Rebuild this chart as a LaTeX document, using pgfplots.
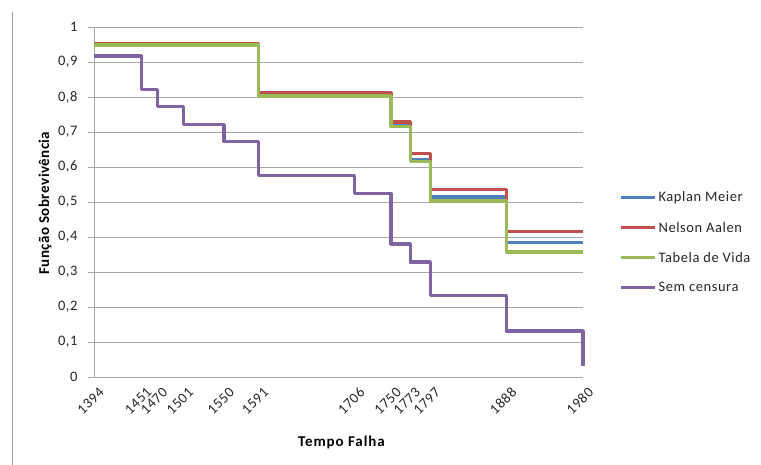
\documentclass[border=0pt]{standalone}
\usepackage{pgfplots}
\pgfplotsset{compat=1.18}
\usepackage{fontspec}
\setmainfont{Carlito}
\definecolor{kmblue}{HTML}{4F81BD}
\definecolor{nared}{HTML}{C0504D}
\definecolor{tvgreen}{HTML}{9BBB59}
\definecolor{scpurple}{HTML}{8064A2}
\definecolor{gridgray}{HTML}{A6A6A6}
\definecolor{txt}{HTML}{262626}
\newcommand{\chartfont}{\fontsize{14.5bp}{16bp}\selectfont\addfontfeatures{LetterSpace=4}}
\newcommand{\titlefont}{\fontsize{15bp}{17bp}\selectfont\bfseries\addfontfeatures{LetterSpace=6}}
\newcommand{\ytitlefont}{\fontsize{15bp}{17bp}\selectfont\bfseries\addfontfeatures{LetterSpace=3}}
\begin{document}
\begin{tikzpicture}[x=1bp,y=1bp]
\useasboundingbox (0,0) rectangle (761,465);
\draw[gray!75, line width=0.8bp] (12,0) -- (12,453);
\begin{axis}[
  at={(94bp,88bp)}, anchor=south west,
  scale only axis, width=489bp, height=350bp,
  xmin=1394, xmax=1980, ymin=0, ymax=1,
  axis lines*=left,
  axis line style={gridgray, line width=0.8bp},
  ymajorgrids, grid style={gridgray, line width=0.8bp},
  ytick={0,0.1,0.2,0.3,0.4,0.5,0.6,0.7,0.8,0.9,1},
  yticklabel style={/pgf/number format/use comma, /pgf/number format/fixed, /pgf/number format/precision=1},
  /pgf/number format/assume math mode=true,
  xtick={1394,1451,1470,1501,1550,1591,1706,1750,1773,1797,1888,1980},
  xticklabels={1394,1451,1470,1501,1550,1591,1706,1750,1773,1797,1888,1980},
  xticklabel style={rotate=45, anchor=north east, xshift=4bp, yshift=-2bp},
  major x tick style={draw=none},
  major y tick style={gridgray, line width=0.8bp},
  tick align=outside, major tick length=6bp,
  ticklabel style={font=\chartfont, text=txt},
  yticklabel style={xshift=-7bp},
  xlabel={Tempo Falha}, ylabel={Função Sobrevivência},
  xlabel style={font=\titlefont, text=black, at={(rel axis cs:0.506,0)}, anchor=center, yshift=-65bp},
  ylabel style={font=\ytitlefont, text=black, at={(rel axis cs:0,0.497)}, anchor=center, yshift=49bp},
  legend style={at={(rel axis cs:1.074,0.535)}, anchor=north west, draw=none, fill=none,
    font=\chartfont, text=txt, row sep=14.5bp, inner sep=0pt},
  legend cell align=left,
  legend image code/.code={\draw[#1, line width=3.2bp] (0bp,0bp) -- (34bp,0bp);},
  every axis plot/.append style={const plot, line width=3.4bp, line join=round, no markers},
  clip=false,
]
% Kaplan-Meier estimate
\addplot[kmblue] table {
x y
1394 0.950
1591 0.806
1750 0.724
1773 0.622
1797 0.514
1888 0.385
1980 0.385
};
\addlegendentry{Kaplan Meier}
% Nelson-Aalen estimate
\addplot[nared] table {
x y
1394 0.953
1591 0.811
1750 0.728
1773 0.639
1797 0.536
1888 0.416
1980 0.416
};
\addlegendentry{Nelson Aalen}
% life table
\addplot[tvgreen] table {
x y
1394 0.948
1591 0.803
1750 0.716
1773 0.615
1797 0.503
1888 0.357
1980 0.357
};
\addlegendentry{Tabela de Vida}
% uncensored
\addplot[scpurple] table {
x y
1394 0.917
1451 0.822
1470 0.772
1501 0.721
1550 0.672
1591 0.576
1706 0.525
1750 0.380
1773 0.328
1797 0.232
1888 0.131
1980 0.131
1980 0.032
};
\addlegendentry{Sem censura}
\end{axis}
\end{tikzpicture}
\end{document}
